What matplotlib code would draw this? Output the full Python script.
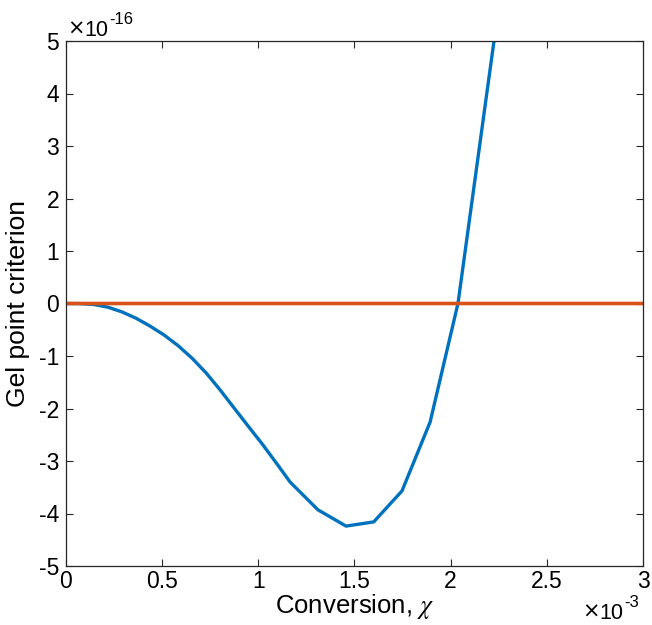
import matplotlib.pyplot as plt
import numpy as np

plt.rcParams["font.family"] = ["Liberation Sans", "DejaVu Sans"]
plt.rcParams["mathtext.fontset"] = "stix"

# conversion (x 1e-3) and gel point criterion (x 1e-16)
conversion = [0.0, 0.073, 0.146, 0.218, 0.291, 0.364, 0.437, 0.51, 0.582,
              0.655, 0.728, 0.80, 0.874, 0.946, 1.019, 1.092, 1.165,
              1.31, 1.456, 1.60, 1.747, 1.893, 2.038, 2.184, 2.33]
criterion = [0.0, -0.002, -0.02, -0.07, -0.16, -0.28, -0.43, -0.60, -0.80,
             -1.04, -1.32, -1.64, -1.99, -2.33, -2.67, -3.03, -3.40,
             -3.93, -4.24, -4.16, -3.57, -2.26, 0.0, 3.9, 7.78]
zero_x = [0.0, 3.0]
zero_y = [0.0, 0.0]

xtick_labels = ["0", "0.5", "1", "1.5", "2", "2.5", "3"]
ytick_vals = np.arange(-5, 6, 1)
ytick_labels = [str(v) for v in ytick_vals]

fig = plt.figure(figsize=(6.52, 6.25), dpi=100)
ax = fig.add_axes([0.1012, 0.0944, 0.885, 0.84])

ax.plot(conversion, criterion, color="#0072BD", lw=2.4)
ax.plot(zero_x, zero_y, color="#D95319", lw=2.6, snap=False)

ax.set_xlim(0, 3)
ax.set_ylim(-5, 5)
ax.set_xticks(np.arange(0, 3.01, 0.5))
ax.set_xticklabels(xtick_labels)
ax.set_yticks(ytick_vals)
ax.set_yticklabels(ytick_labels)
ax.tick_params(direction="in", top=True, right=True, labelsize=16.5,
               length=5, width=0.8, colors="#262626", labelcolor="black")
ax.tick_params(axis="x", pad=3)
ax.tick_params(axis="y", pad=5)
for s in ax.spines.values():
    s.set_linewidth(0.9)
    s.set_color("#262626")

ax.set_xlabel(r"Conversion, $\chi$", fontsize=18.5, labelpad=-1)
ax.set_ylabel("Gel point criterion", fontsize=19, labelpad=6)


def exponent_label(anchor, x0, y0, power):
    # MATLAB style "x10^p" multiplier, offsets in pixels from an axes corner
    kw = dict(xycoords="axes fraction", textcoords="offset pixels",
              ha="left", va="baseline")
    ax.annotate("\u00d7", xy=anchor, xytext=(x0, y0 + 1), fontsize=15,
                family="DejaVu Sans", **kw)
    ax.annotate("10", xy=anchor, xytext=(x0 + 17, y0), fontsize=15.5, **kw)
    ax.annotate(power, xy=anchor, xytext=(x0 + 42, y0 + 12), fontsize=12, **kw)


exponent_label((0, 1), 1, 5, "-16")
exponent_label((1, 0), -61, -53, "-3")

fig.savefig("out.png", dpi=100)
